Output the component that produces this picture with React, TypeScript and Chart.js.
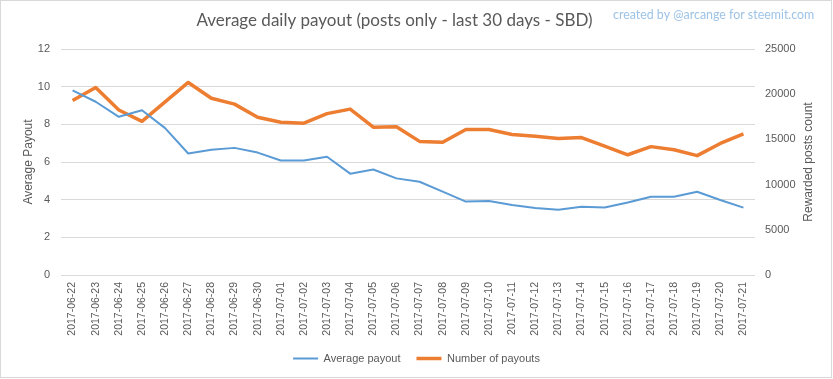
import React, { useEffect, useRef } from "react";
import { Chart, registerables } from "chart.js";

Chart.register(...registerables);

const dates = [
  "2017-06-22", "2017-06-23", "2017-06-24", "2017-06-25", "2017-06-26",
  "2017-06-27", "2017-06-28", "2017-06-29", "2017-06-30", "2017-07-01",
  "2017-07-02", "2017-07-03", "2017-07-04", "2017-07-05", "2017-07-06",
  "2017-07-07", "2017-07-08", "2017-07-09", "2017-07-10", "2017-07-11",
  "2017-07-12", "2017-07-13", "2017-07-14", "2017-07-15", "2017-07-16",
  "2017-07-17", "2017-07-18", "2017-07-19", "2017-07-20", "2017-07-21",
];

const averagePayout = [
  9.8, 9.2, 8.4, 8.75, 7.8, 6.45, 6.65, 6.75, 6.5, 6.08,
  6.08, 6.28, 5.38, 5.6, 5.13, 4.95, 4.43, 3.9, 3.93, 3.72,
  3.56, 3.47, 3.62, 3.58, 3.85, 4.15, 4.15, 4.42, 3.98, 3.58,
];

const numberOfPayouts = [
  19300, 20750, 18250, 17000, 19150, 21300, 19550, 18900, 17450, 16900,
  16800, 17850, 18350, 16350, 16400, 14780, 14680, 16100, 16100, 15550,
  15350, 15100, 15200, 14250, 13300, 14200, 13850, 13200, 14550, 15600,
];

const leftAxisMin = 0;
const leftAxisMax = 12;
const leftAxisStep = 2;
const rightAxisMin = 0;
const rightAxisMax = 25000;
const rightAxisStep = 5000;

const TITLE = "Average daily payout (posts only - last 30 days - SBD)";
const CREDIT = "created by @arcange for steemit.com";
const LEFT_AXIS_TITLE = "Average Payout";
const RIGHT_AXIS_TITLE = "Rewarded posts count";
const SERIES_NAMES = ["Average payout", "Number of payouts"];

const TEXT = "#595959";
const GRID = "#d9d9d9";
const BLUE = "#5b9bd5";
const ORANGE = "#ed7d31";
const FONT = "'Liberation Sans', Arial, sans-serif";

const textPlugin = {
  id: "extraText",
  afterDraw(chart: any) {
    const ctx = chart.ctx;
    const area = chart.chartArea;
    ctx.save();
    ctx.fillStyle = TEXT;
    ctx.font = "17px Lato";
    ctx.textAlign = "center";
    ctx.textBaseline = "alphabetic";
    ctx.fillText(TITLE, 394.5, 26);

    ctx.fillStyle = "#9dc3e6";
    ctx.font = "12.4px Lato";
    ctx.textAlign = "left";
    ctx.fillText(CREDIT, 613, 18.5);

    ctx.translate(809, (area.top + area.bottom) / 2);
    ctx.rotate(-Math.PI / 2);
    ctx.font = "12px " + FONT;
    ctx.fillStyle = TEXT;
    ctx.textAlign = "center";
    ctx.textBaseline = "middle";
    ctx.fillText(RIGHT_AXIS_TITLE, 0, 0);
    ctx.restore();
  },
};

export default function App() {
  const canvasRef = useRef<HTMLCanvasElement | null>(null);

  useEffect(() => {
    if (!canvasRef.current) return;
    const chart = new Chart(canvasRef.current, {
      type: "line",
      data: {
        labels: dates,
        datasets: [
          {
            label: SERIES_NAMES[0],
            data: averagePayout,
            borderColor: BLUE,
            backgroundColor: BLUE,
            borderWidth: 2,
            pointRadius: 0,
            tension: 0,
            borderJoinStyle: "round",
            yAxisID: "y",
          },
          {
            label: SERIES_NAMES[1],
            data: numberOfPayouts,
            borderColor: ORANGE,
            backgroundColor: ORANGE,
            borderWidth: 3.5,
            pointRadius: 0,
            tension: 0,
            borderJoinStyle: "round",
            yAxisID: "y1",
          },
        ],
      },
      options: {
        responsive: false,
        animation: false,
        devicePixelRatio: 1,
        layout: { padding: { top: 49, bottom: 5, left: 0, right: 0 } },
        plugins: {
          title: { display: false },
          tooltip: { enabled: false },
          legend: {
            display: true,
            position: "bottom",
            labels: {
              usePointStyle: true,
              pointStyle: "line",
              pointStyleWidth: 25,
              padding: 16,
              color: TEXT,
              font: { family: FONT, size: 11 },
            },
          },
        },
        scales: {
          x: {
            offset: true,
            grid: { display: false, drawTicks: false },
            border: { display: false },
            ticks: {
              autoSkip: false,
              minRotation: 90,
              maxRotation: 90,
              padding: 7,
              color: TEXT,
              font: { family: FONT, size: 10.5 },
            },
            afterFit: (scale: any) => {
              scale.height = 62;
            },
          },
          y: {
            position: "left",
            min: leftAxisMin,
            max: leftAxisMax,
            grid: { color: GRID, lineWidth: 1, drawTicks: false },
            border: { display: false },
            ticks: {
              stepSize: leftAxisStep,
              padding: 11,
              color: TEXT,
              font: { family: FONT, size: 11 },
              callback: (v: any) => String(v),
            },
            title: {
              display: true,
              text: LEFT_AXIS_TITLE,
              color: TEXT,
              font: { family: FONT, size: 12 },
              padding: { top: 21, bottom: 0 },
            },
            afterFit: (scale: any) => {
              scale.width = 61;
            },
          },
          y1: {
            position: "right",
            min: rightAxisMin,
            max: rightAxisMax,
            grid: { display: false, drawTicks: false },
            border: { display: false },
            ticks: {
              stepSize: rightAxisStep,
              padding: 10,
              color: TEXT,
              font: { family: FONT, size: 11 },
              callback: (v: any) => String(v),
            },
            afterFit: (scale: any) => {
              scale.width = 78;
            },
          },
        },
      },
      plugins: [textPlugin],
    } as any);
    return () => chart.destroy();
  }, []);

  return (
    <div
      style={{
        position: "fixed",
        left: 0,
        top: 0,
        width: 833,
        height: 379,
        background: "#ffffff",
      }}
    >
      <canvas
        ref={canvasRef}
        width={833}
        height={379}
        style={{ display: "block", width: 833, height: 379 }}
      />
      <div
        style={{
          position: "absolute",
          left: 0,
          top: 0,
          width: 832,
          height: 378,
          boxSizing: "border-box",
          border: "1px solid #d9d9d9",
          pointerEvents: "none",
        }}
      />
    </div>
  );
}
